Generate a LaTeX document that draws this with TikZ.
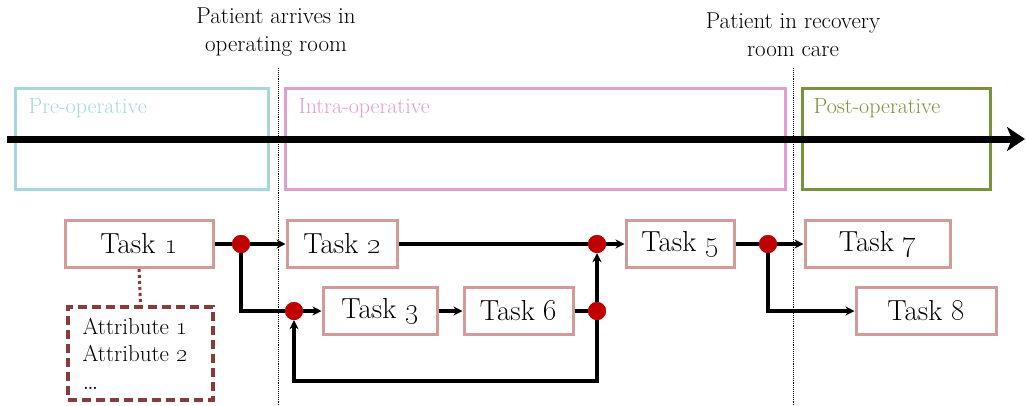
\documentclass[tikz,border=0pt]{standalone}
\usetikzlibrary{arrows.meta,positioning}
\definecolor{taskc}{HTML}{D49A9A}
\definecolor{dotc}{HTML}{C00000}
\definecolor{prec}{HTML}{A8D6DE}
\definecolor{intrac}{HTML}{DDA0D0}
\definecolor{postc}{HTML}{77933C}
\definecolor{attrc}{HTML}{8B3A3A}
\begin{document}
\begin{tikzpicture}[x=1pt,y=-1pt,
  taskbox/.style={draw=taskc,line width=3pt,minimum width=#1,minimum height=47pt,inner sep=0pt,font=\fontsize{29}{32}\selectfont},
  taskbox/.default=110pt,
  junc/.style={circle,fill=dotc,minimum size=18pt,inner sep=0pt},
  phasebox/.style={draw=#1,line width=3pt,inner sep=0pt},
  phasetxt/.style={anchor=west,font=\fontsize{22}{24}\selectfont},
  conn/.style={line width=3.2pt},
  arr/.style={conn,-{Stealth[length=9pt,width=9pt]}},
  toplab/.style={align=center,font=\fontsize{23}{28}\selectfont},
  vline/.style={densely dotted,line width=0.9pt}]
\useasboundingbox (0,0) rectangle (1026,405);
% phase boxes
\node[phasebox=prec,minimum width=253pt,minimum height=101pt] (pre) at (141.5,138.5) {};
\node[phasebox=intrac,minimum width=500pt,minimum height=101pt] (intra) at (535,138.5) {};
\node[phasebox=postc,minimum width=188pt,minimum height=101pt] (post) at (896,138.5) {};
\node[phasetxt,text=prec] (pretxt) at (25,108) {Pre-operative};
\node[phasetxt,text=intrac] (intratxt) at (295,108) {Intra-operative};
\node[phasetxt,text=postc] (posttxt) at (810,108) {Post-operative};
% milestones
\node[toplab] (m1) at (276,32) {Patient arrives in\\operating room};
\node[toplab] (m2) at (793,35) {Patient in recovery\\room care};
\coordinate (v1t) at (278,68); \coordinate (v1b) at (278,405);
\coordinate (v2t) at (793,68); \coordinate (v2b) at (793,405);
\draw[vline] (v1t) -- (v1b);
\draw[vline] (v2t) -- (v2b);
% timeline
\coordinate (ts) at (7,139); \coordinate (te) at (1025,139);
\draw[line width=7pt,-{Stealth[length=18pt,width=24pt,inset=5pt]}] (ts) -- (te);
% tasks
\node[taskbox=148pt] (t1) at (139,244) {Task \oldstylenums{1}};
\node[taskbox=110pt] (t2) at (342,244) {Task \oldstylenums{2}};
\node[taskbox=114pt] (t3) at (380,311) {Task \oldstylenums{3}};
\node[taskbox=109pt] (t6) at (518.5,311) {Task \oldstylenums{6}};
\node[taskbox=108pt] (t5) at (680,244) {Task \oldstylenums{5}};
\node[taskbox=145pt] (t7) at (877.5,244) {Task \oldstylenums{7}};
\node[taskbox=140pt] (t8) at (926,311) {Task \oldstylenums{8}};
% attributes
\node[draw=attrc,dashed,dash pattern=on 9pt off 5pt,line width=3.5pt,minimum width=145pt,minimum height=93pt,inner sep=0pt,align=left,text width=116pt,font=\fontsize{23}{27.5}\selectfont] (attr) at (140.5,353.5) {Attribute \oldstylenums{1}\\Attribute \oldstylenums{2}\\{\fontsize{27}{27.5}\selectfont\dots}};
\draw[attrc,line width=3pt,dash pattern=on 3pt off 3pt] (t1.south) -- (attr.north);
% junctions
\node[junc] (j1) at (241,244) {};
\node[junc] (j2) at (294,311) {};
\node[junc] (j3) at (597,244) {};
\node[junc] (j4) at (597,311) {};
\node[junc] (j5) at (768,244) {};
\coordinate (lb) at (597,381);
\coordinate (la) at (294,381);
% connectors
\draw[conn] (t1.east) -- (j1);
\draw[arr] (j1) -- (t2.west);
\draw[conn] (j1) |- (j2);
\draw[arr] (j2) -- (t3.west);
\draw[arr] (t3.east) -- (t6.west);
\draw[conn] (t6.east) -- (j4);
\draw[arr] (j4) -- (j3.south);
\draw[conn] (t2.east) -- (j3);
\draw[arr] (j3) -- (t5.west);
\draw[conn] (t5.east) -- (j5);
\draw[arr] (j5) -- (t7.west);
\draw[arr] (j5) |- (t8.west);
\draw[arr] (j4) -- (lb) -- (la) -- (j2.south);
% redraw junctions on top
\node[junc] at (j1) {};
\node[junc] at (j2) {};
\node[junc] at (j3) {};
\node[junc] at (j4) {};
\node[junc] at (j5) {};
\end{tikzpicture}
\end{document}
